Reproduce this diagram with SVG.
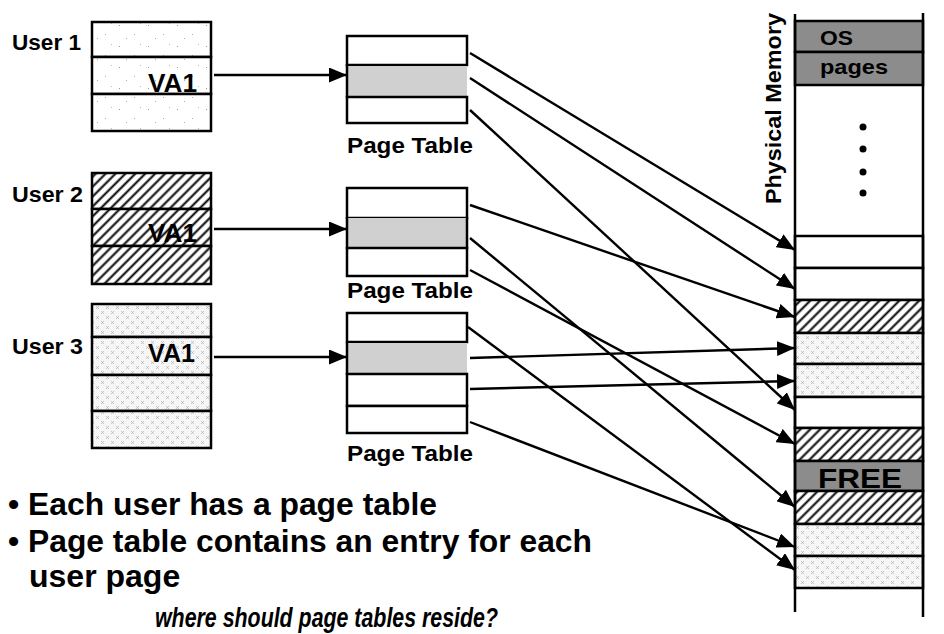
<svg xmlns="http://www.w3.org/2000/svg" width="944" height="634" viewBox="0 0 944 634">
<defs>
<style>
.b{stroke:#000;stroke-width:2.5}
.t{font-family:"Liberation Sans",Arial,sans-serif;font-weight:bold;fill:#000}
.c{stroke:#000;stroke-width:2.4;fill:none}
.row{stroke:#000;stroke-width:2.5}
</style>
<pattern id="hatch" patternUnits="userSpaceOnUse" width="7" height="7" patternTransform="rotate(45)">
<rect width="7" height="7" fill="#fff"/>
<line x1="1.5" y1="0" x2="1.5" y2="7" stroke="#000" stroke-width="2"/>
</pattern>
<pattern id="stip" patternUnits="userSpaceOnUse" width="10" height="10">
<rect width="10" height="10" fill="#f6f6f6"/>
<path d="M1,1 L4,4 M4,1 L1,4 M6,6 L9,9 M9,6 L6,9" stroke="#a8a8a8" stroke-width="0.6"/>
</pattern>
<pattern id="dots" patternUnits="userSpaceOnUse" width="29" height="21">
<rect width="29" height="21" fill="#fff"/>
<rect x="3" y="4" width="1" height="1" fill="#999"/>
<rect x="18" y="13" width="1" height="1" fill="#aaa"/>
<rect x="24" y="2" width="1" height="1" fill="#bbb"/>
<rect x="10" y="17" width="1" height="1" fill="#aaa"/>
</pattern>
<marker id="ah" markerUnits="userSpaceOnUse" markerWidth="19" markerHeight="15" refX="18" refY="7.5" orient="auto">
<path d="M0,0 L18,7.5 L0,15 z" fill="#000"/>
</marker>
</defs>
<rect width="944" height="634" fill="#fff"/>

<g id="user1">
<text class="t" x="12" y="50" font-size="22" textLength="69" lengthAdjust="spacingAndGlyphs">User 1</text>
<rect class="row" x="92" y="22" width="119" height="35" fill="url(#dots)"/>
<rect class="row" x="92" y="57" width="119" height="37" fill="url(#dots)"/>
<rect class="row" x="92" y="94" width="119" height="37" fill="url(#dots)"/>
<text class="t" x="148" y="92" font-size="25" textLength="49" lengthAdjust="spacingAndGlyphs">VA1</text>
</g>

<g id="user2">
<text class="t" x="12" y="202" font-size="22" textLength="71" lengthAdjust="spacingAndGlyphs">User 2</text>
<rect class="row" x="92" y="173" width="119" height="36" fill="url(#hatch)"/>
<rect class="row" x="92" y="209" width="119" height="37" fill="url(#hatch)"/>
<rect class="row" x="92" y="246" width="119" height="38" fill="url(#hatch)"/>
<text class="t" x="148" y="242" font-size="25" textLength="49" lengthAdjust="spacingAndGlyphs">VA1</text>
</g>

<g id="user3">
<text class="t" x="12" y="354" font-size="22" textLength="71" lengthAdjust="spacingAndGlyphs">User 3</text>
<rect class="row" x="92" y="304" width="119" height="33" fill="url(#stip)"/>
<rect class="row" x="92" y="337" width="119" height="38" fill="url(#stip)"/>
<rect class="row" x="92" y="375" width="119" height="36" fill="url(#stip)"/>
<rect class="row" x="92" y="411" width="119" height="37" fill="url(#stip)"/>
<text class="t" x="148" y="362" font-size="25" textLength="47" lengthAdjust="spacingAndGlyphs">VA1</text>
</g>

<g id="pt1">
<rect class="row" x="347" y="36" width="120" height="29" fill="#fff"/>
<rect x="347" y="66" width="120" height="30" fill="#d0d0d0"/>
<rect class="row" x="347" y="97" width="120" height="26" fill="#fff"/>
<line class="b" x1="347" y1="64" x2="347" y2="98"/>
<text class="t" x="347" y="153" font-size="22" textLength="126" lengthAdjust="spacingAndGlyphs">Page Table</text>
</g>

<g id="pt2">
<rect class="row" x="347" y="188" width="120" height="30" fill="#fff"/>
<rect x="347" y="218" width="120" height="30" fill="#d0d0d0"/>
<rect class="row" x="347" y="248" width="120" height="28" fill="#fff"/>
<line class="b" x1="347" y1="217" x2="347" y2="249"/>
<line class="b" x1="467" y1="217" x2="467" y2="249"/>
<text class="t" x="347" y="298" font-size="22" textLength="126" lengthAdjust="spacingAndGlyphs">Page Table</text>
</g>

<g id="pt3">
<rect class="row" x="347" y="313" width="120" height="29" fill="#fff"/>
<rect x="347" y="343" width="120" height="31" fill="#d0d0d0"/>
<rect class="row" x="347" y="374" width="120" height="32" fill="#fff"/>
<rect class="row" x="347" y="406" width="120" height="27" fill="#fff"/>
<line class="b" x1="347" y1="342" x2="347" y2="375"/>
<text class="t" x="347" y="461" font-size="22" textLength="126" lengthAdjust="spacingAndGlyphs">Page Table</text>
</g>

<g id="memory">
<text class="t" transform="translate(781,204) rotate(-90)" font-size="22" textLength="191" lengthAdjust="spacingAndGlyphs">Physical Memory</text>
<rect class="row" x="795" y="21" width="128" height="31" fill="#8c8c8c"/>
<rect class="row" x="795" y="52" width="128" height="33" fill="#8c8c8c"/>
<text class="t" x="820" y="45" font-size="21" textLength="33" lengthAdjust="spacingAndGlyphs">OS</text>
<text class="t" x="820" y="74" font-size="21" textLength="68" lengthAdjust="spacingAndGlyphs">pages</text>
<circle cx="863" cy="127" r="3.5"/>
<circle cx="863" cy="149" r="3.5"/>
<circle cx="863" cy="172" r="3.5"/>
<circle cx="863" cy="193" r="3.5"/>
<rect class="row" x="795" y="236" width="128" height="32" fill="#fff"/>
<rect class="row" x="795" y="268" width="128" height="32" fill="#fff"/>
<rect class="row" x="795" y="300" width="128" height="33" fill="url(#hatch)"/>
<rect class="row" x="795" y="333" width="128" height="31" fill="url(#stip)"/>
<rect class="row" x="795" y="364" width="128" height="33" fill="url(#stip)"/>
<rect class="row" x="795" y="397" width="128" height="31" fill="#fff"/>
<rect class="row" x="795" y="428" width="128" height="33" fill="url(#hatch)"/>
<rect class="row" x="795" y="461" width="128" height="30" fill="#8c8c8c"/>
<text class="t" x="818" y="488" font-size="28" textLength="84" lengthAdjust="spacingAndGlyphs">FREE</text>
<rect class="row" x="795" y="491" width="128" height="33" fill="url(#hatch)"/>
<rect class="row" x="795" y="524" width="128" height="32" fill="url(#stip)"/>
<rect class="row" x="795" y="556" width="128" height="32" fill="url(#stip)"/>
<line class="b" x1="795" y1="14" x2="795" y2="612"/>
<line class="b" x1="923" y1="13" x2="923" y2="617"/>
</g>

<g id="connectors">
<line class="c" x1="214" y1="75" x2="347" y2="75" marker-end="url(#ah)"/>
<line class="c" x1="214" y1="229" x2="347" y2="229" marker-end="url(#ah)"/>
<line class="c" x1="214" y1="357" x2="347" y2="357" marker-end="url(#ah)"/>
<line class="c" x1="470" y1="53" x2="795" y2="250" marker-end="url(#ah)"/>
<line class="c" x1="470" y1="78" x2="795" y2="289" marker-end="url(#ah)"/>
<line class="c" x1="470" y1="110" x2="795" y2="410" marker-end="url(#ah)"/>
<line class="c" x1="470" y1="205" x2="795" y2="317" marker-end="url(#ah)"/>
<line class="c" x1="470" y1="238" x2="795" y2="507" marker-end="url(#ah)"/>
<line class="c" x1="470" y1="270" x2="795" y2="444" marker-end="url(#ah)"/>
<line class="c" x1="468" y1="327" x2="795" y2="570" marker-end="url(#ah)"/>
<line class="c" x1="470" y1="358" x2="795" y2="348" marker-end="url(#ah)"/>
<line class="c" x1="470" y1="389" x2="795" y2="381" marker-end="url(#ah)"/>
<line class="c" x1="470" y1="422" x2="795" y2="547" marker-end="url(#ah)"/>
</g>

<g id="notes">
<text class="t" x="8" y="515" font-size="32" textLength="429" lengthAdjust="spacingAndGlyphs">• Each user has a page table</text>
<text class="t" x="8" y="552" font-size="32" textLength="584" lengthAdjust="spacingAndGlyphs">• Page table contains an entry for each</text>
<text class="t" x="29" y="587" font-size="32">user page</text>
<text class="t" x="155" y="627" font-size="27" font-style="italic" textLength="343" lengthAdjust="spacingAndGlyphs">where should page tables reside?</text>
</g>
</svg>
